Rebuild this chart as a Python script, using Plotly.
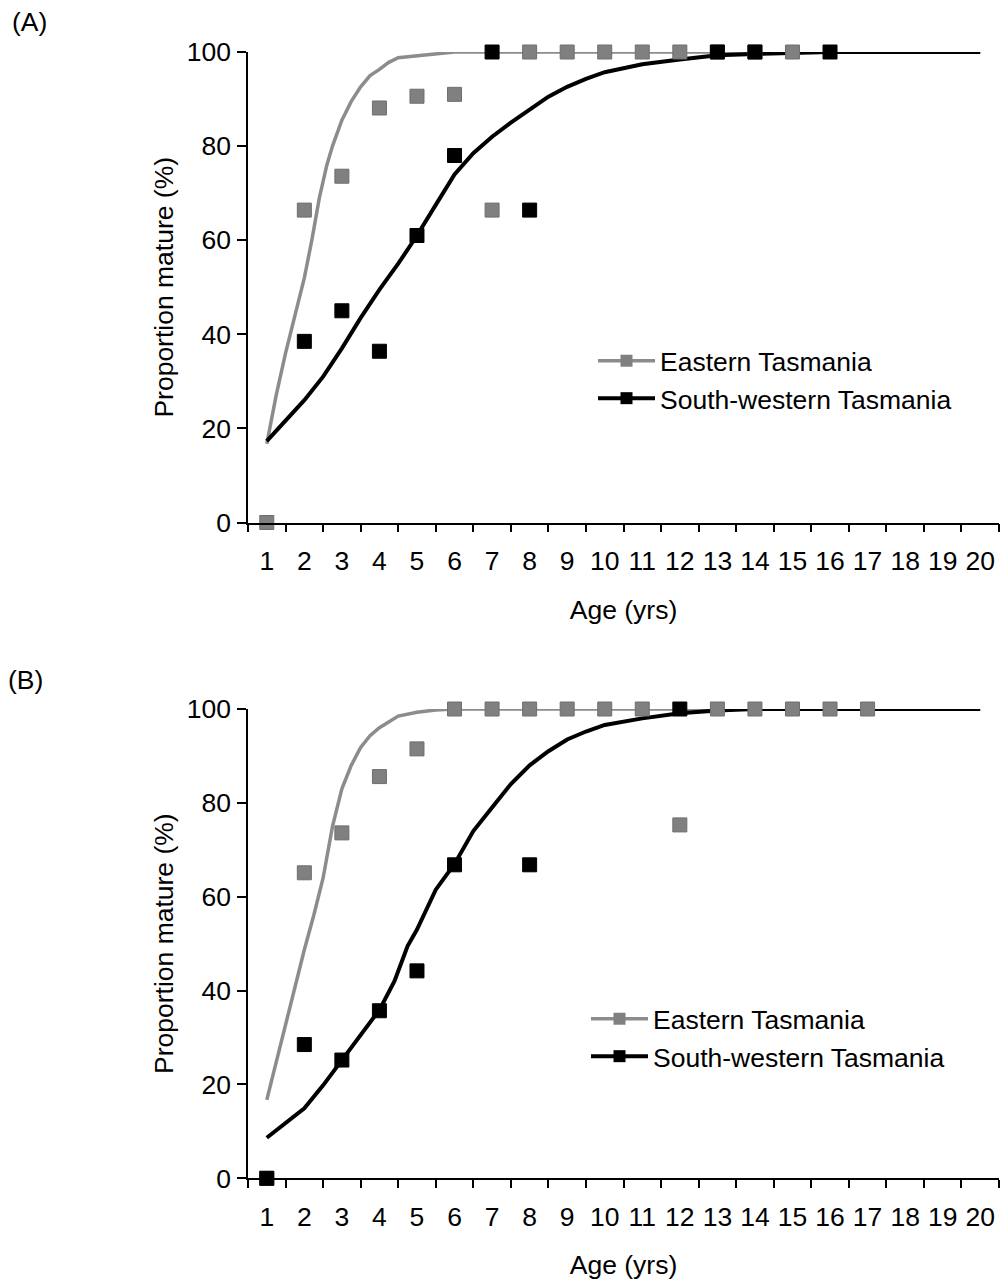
import plotly.graph_objects as go

# ---------------- data ----------------
age_ticks = list(range(1, 21))

# Panel A observed
east_A_age = [1, 2, 3, 4, 5, 6, 7, 8, 9, 10, 11, 12, 13, 14, 15]
east_A_val = [0, 66.4, 73.6, 88.1, 90.6, 91.0, 66.4, 100, 100, 100, 100, 100, 100, 100, 100]
sw_A_age = [2, 3, 4, 5, 6, 7, 8, 13, 14, 16]
sw_A_val = [38.5, 45.0, 36.4, 61.0, 78.0, 100, 66.4, 100, 100, 100]

# Panel A fitted curves
east_A_fit_age = [1, 1.25, 1.5, 1.75, 2, 2.2, 2.4, 2.6, 2.75, 3, 3.25, 3.5, 3.75, 4, 4.25, 4.5, 5, 5.5, 6, 8, 10, 12, 14, 16, 18, 20]
east_A_fit_val = [16.7, 27, 36, 44, 52, 60, 69, 76, 80, 85.5, 89.5, 92.6, 95, 96.3, 97.8, 98.8, 99.2, 99.7, 100, 100, 100, 100, 100, 100, 100, 100]
sw_A_fit_age = [1, 2, 2.5, 3, 3.5, 4, 4.5, 5, 5.5, 6, 6.5, 7, 7.5, 8, 8.5, 9, 9.5, 10, 11, 12, 13, 14, 15, 16, 18, 20]
sw_A_fit_val = [17.3, 26, 31, 37, 43.5, 49.5, 55, 61, 67.5, 74, 78.5, 82, 85, 87.7, 90.5, 92.6, 94.3, 95.7, 97.4, 98.4, 99.3, 99.6, 99.8, 100, 100, 100]

# Panel B observed
east_B_age = [1, 2, 3, 4, 5, 6, 7, 8, 9, 10, 11, 12, 13, 14, 15, 16, 17]
east_B_val = [0, 65.1, 73.6, 85.6, 91.5, 100, 100, 100, 100, 100, 100, 75.3, 100, 100, 100, 100, 100]
sw_B_age = [1, 2, 3, 4, 5, 6, 8, 12]
sw_B_val = [0, 28.5, 25.2, 35.7, 44.2, 66.8, 66.8, 100]

# Panel B fitted curves
east_B_fit_age = [1, 1.5, 2, 2.25, 2.5, 2.75, 3, 3.25, 3.5, 3.75, 4, 4.5, 5, 5.5, 6, 8, 10, 12, 14, 16, 18, 20]
east_B_fit_val = [16.7, 33, 48.7, 56, 64, 75, 83, 88, 91.8, 94.3, 96, 98.5, 99.3, 99.8, 100, 100, 100, 100, 100, 100, 100, 100]
sw_B_fit_age = [1, 2, 2.5, 3, 3.5, 4, 4.4, 4.75, 5, 5.5, 6, 6.5, 7, 7.5, 8, 8.5, 9, 9.5, 10, 11, 12, 13, 14, 16, 18, 20]
sw_B_fit_val = [8.65, 14.9, 19.8, 25.2, 30.3, 35.9, 42, 49.5, 53, 61.5, 67, 74, 79, 84, 88, 91, 93.5, 95.2, 96.6, 98, 99.1, 99.7, 100, 100, 100, 100]

series_names = ["Eastern Tasmania", "South-western Tasmania"]

# ---------------- styles ----------------
FONT = "Liberation Sans, Arial, sans-serif"
FS = 26.5
GRAY_M = "#808080"
GRAY_L = "#8c8c8c"
BLACK = "#000000"

W, H = 1003, 1282
xdom = [248 / W, 999 / W]
ydomA = [1 - 522.5 / H, 1 - 52 / H]
ydomB = [1 - 1178.3 / H, 1 - 709 / H]

fig = go.Figure()

def add_panel(xa, ya, e_fit_x, e_fit_y, s_fit_x, s_fit_y, e_x, e_y, s_x, s_y, legend):
    fig.add_trace(go.Scatter(x=e_fit_x, y=e_fit_y, mode="lines", line=dict(color=GRAY_L, width=3.5),
                             xaxis=xa, yaxis=ya, showlegend=False, cliponaxis=False, hoverinfo="skip"))
    fig.add_trace(go.Scatter(x=s_fit_x, y=s_fit_y, mode="lines", line=dict(color=BLACK, width=4),
                             xaxis=xa, yaxis=ya, showlegend=False, cliponaxis=False, hoverinfo="skip"))
    fig.add_trace(go.Scatter(x=e_x, y=e_y, mode="markers",
                             marker=dict(symbol="square", size=14, color=GRAY_M, line=dict(color="#6e6e6e", width=1)),
                             xaxis=xa, yaxis=ya, showlegend=False, cliponaxis=False))
    fig.add_trace(go.Scatter(x=s_x, y=s_y, mode="markers",
                             marker=dict(symbol="square", size=14, color=BLACK, line=dict(color=BLACK, width=1)),
                             xaxis=xa, yaxis=ya, showlegend=False, cliponaxis=False))
    # legend entries
    fig.add_trace(go.Scatter(x=[None], y=[None], mode="lines+markers", name=series_names[0],
                             line=dict(color=GRAY_L, width=3.5),
                             marker=dict(symbol="square", size=12, color=GRAY_M),
                             xaxis=xa, yaxis=ya, legend=legend))
    fig.add_trace(go.Scatter(x=[None], y=[None], mode="lines+markers", name=series_names[1],
                             line=dict(color=BLACK, width=4),
                             marker=dict(symbol="square", size=12, color=BLACK),
                             xaxis=xa, yaxis=ya, legend=legend))

add_panel("x", "y", east_A_fit_age, east_A_fit_val, sw_A_fit_age, sw_A_fit_val,
          east_A_age, east_A_val, sw_A_age, sw_A_val, "legend")
add_panel("x2", "y2", east_B_fit_age, east_B_fit_val, sw_B_fit_age, sw_B_fit_val,
          east_B_age, east_B_val, sw_B_age, sw_B_val, "legend2")

boundaries = [a - 0.5 for a in age_ticks] + [age_ticks[-1] + 0.5]

def xaxis_cfg(anchor):
    return dict(domain=xdom, anchor=anchor, range=[0.5, 20.5], tickmode="array", automargin=False,
                tickvals=age_ticks, ticktext=[str(a) for a in age_ticks],
                ticks="outside", ticklen=14, tickcolor="rgba(0,0,0,0)",
                minor=dict(tickvals=boundaries, ticks="outside", ticklen=8, tickcolor=BLACK, tickwidth=1.5),
                showline=True, linecolor=BLACK, linewidth=1.5, showgrid=False, zeroline=False,
                tickfont=dict(family=FONT, size=FS, color=BLACK),
                title=dict(text="Age (yrs)", font=dict(family=FONT, size=FS, color=BLACK), standoff=25))

def yaxis_cfg(anchor, dom):
    return dict(domain=dom, anchor=anchor, range=[0, 100], tickmode="array", automargin=False,
                tickvals=[0, 20, 40, 60, 80, 100], ticks="outside", ticklen=9, tickwidth=1.5, tickcolor=BLACK,
                ticklabelstandoff=1,
                showline=True, linecolor=BLACK, linewidth=1.5, showgrid=False, zeroline=False,
                tickfont=dict(family=FONT, size=FS, color=BLACK),
                title=dict(text="Proportion mature (%)", font=dict(family=FONT, size=FS, color=BLACK), standoff=5))

legend_common = dict(font=dict(family=FONT, size=FS, color=BLACK), bgcolor="rgba(0,0,0,0)",
                     xanchor="left", yanchor="top", tracegroupgap=0, itemwidth=57)

fig.update_layout(
    template="none",
    width=W, height=H, margin=dict(l=0, r=0, t=0, b=0, autoexpand=False),
    paper_bgcolor="white", plot_bgcolor="white",
    xaxis=xaxis_cfg("y"), yaxis=yaxis_cfg("x", ydomA),
    xaxis2=xaxis_cfg("y2"), yaxis2=yaxis_cfg("x2", ydomB),
    legend=dict(x=593 / W, y=1 - 337 / H, **legend_common),
    legend2=dict(x=586 / W, y=1 - 995 / H, **legend_common),
    annotations=[
        dict(text="(A)", x=10 / W, y=1 - 22 / H, xref="paper", yref="paper", xanchor="left", yanchor="middle",
             showarrow=False, font=dict(family=FONT, size=FS, color=BLACK)),
        dict(text="(B)", x=6 / W, y=1 - 680 / H, xref="paper", yref="paper", xanchor="left", yanchor="middle",
             showarrow=False, font=dict(family=FONT, size=FS, color=BLACK)),
    ],
    showlegend=True,
)

fig.write_html("out.html", config={"displayModeBar": False},
               post_script="document.body.style.margin='0';document.body.style.overflow='hidden';")
